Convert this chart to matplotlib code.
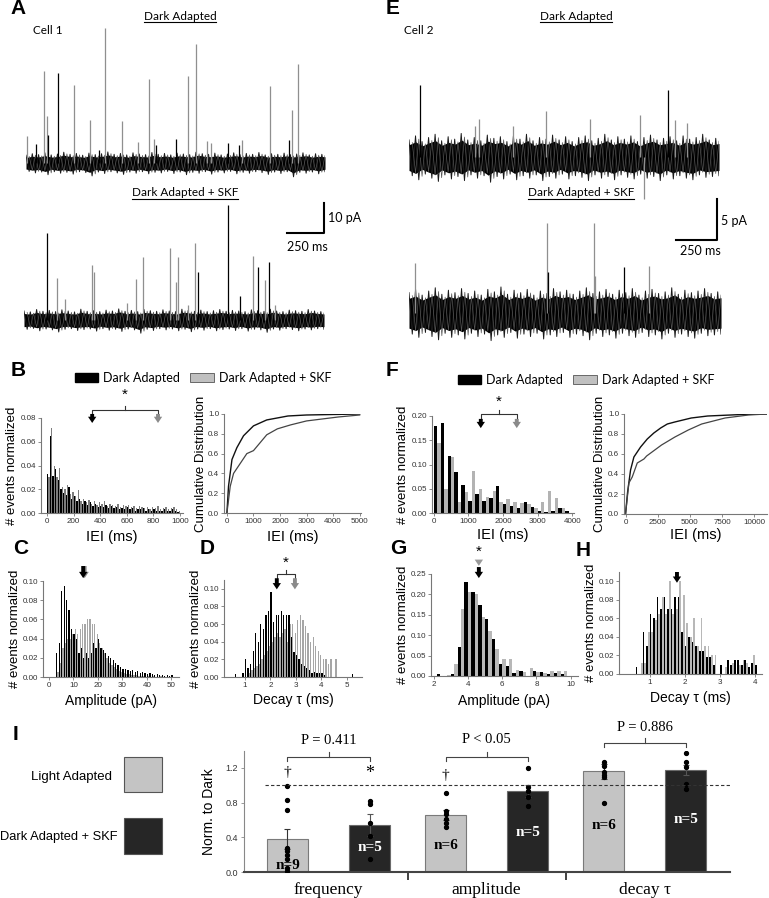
import numpy as np
import matplotlib.pyplot as plt
from matplotlib.patches import Patch, Rectangle
from matplotlib.lines import Line2D

W, H = 769, 898
plt.rcParams['font.family'] = ['Liberation Sans', 'DejaVu Sans']

# ---------------- example traces (A, E) ----------------
# event times (ms), amplitudes (pA), colour code: k = black, g = gray
a1_t = [5, 65, 118, 140, 149, 216, 319, 428, 488, 528, 642, 747, 825, 856, 872, 1006, 1081, 1139,
        1208, 1238, 1353, 1427, 1443, 1634, 1757, 1777, 1817]
a1_amp = [8.9, 6.4, 30.6, 15.6, 9.4, 30.0, 26.1, 14.4, 4.4, 45.0, 14.1, 6.9, 28.0, 8.0, 5.9, 8.0, 28.9,
          39.7, 7.2, 6.7, 6.7, 5.9, 7.8, 25.8, 7.6, 17.8, 33.0]
a1_col = 'gkggkkggkgggggkkggggkkggkgg'
a2_t = [153, 220, 271, 451, 469, 687, 744, 791, 971, 1011, 1024, 1091, 1142, 1158, 1362, 1438, 1524,
        1562, 1607, 1633, 1671]
a2_amp = [28.9, 14.0, 6.9, 18.3, 16.0, 5.5, 13.8, 21.0, 23.9, 12.8, 21.0, 5.0, 25.6, 16.0, 38.3, 8.0,
          21.5, 17.8, 13.3, 19.4, 5.0]
a2_col = 'kggggggggggggkkkgkgkg'
e1_t = [65, 402, 431, 639, 838, 1111, 1414, 1440, 1585, 1630, 1704]
e1_amp = [8.9, 3.8, 4.7, 3.8, 5.7, 4.7, 5.2, -5.2, 8.2, 4.6, 4.2]
e1_col = 'kgggggggkgg'
e2_t = [37, 843, 845, 1126, 1134, 1307, 1463]
e2_amp = [6.2, 11.1, 5.1, 11.1, 4.5, 5.7, 5.8]
e2_col = 'ggkggkg'

# noise envelope (pA around baseline)
a1_hi = [2.6, 3.1, 2.8, 3.4, 2.7, 3.0, 3.6, 2.9, 3.2, 2.6, 3.3, 2.8, 3.1, 3.7, 2.9, 3.2, 2.7, 3.4, 3.0, 2.8,
         3.5, 2.9, 3.2, 2.7, 3.3, 3.0, 2.8, 3.6, 3.1, 2.9, 3.3, 2.7, 3.0, 3.4, 2.8, 3.2, 2.9, 3.5, 2.7, 3.1,
         2.9, 3.3, 2.8, 3.0, 3.4, 2.7, 3.1, 2.9]
a1_lo = [-2.8, -3.3, -3.0, -3.9, -2.9, -3.4, -3.1, -3.7, -2.9, -3.2, -4.3, -3.0, -3.5, -2.9, -3.3, -3.8,
         -3.0, -3.4, -2.9, -3.6, -3.1, -3.3, -2.8, -3.5, -3.0, -3.9, -3.1, -3.4, -2.9, -3.7, -3.0, -3.3,
         -2.8, -3.6, -3.1, -3.4, -2.9, -3.2, -3.8, -3.0, -3.5, -2.9, -4.6, -3.1, -3.4, -3.0, -3.6, -2.9]
a2_hi = [3.0, 2.7, 3.5, 2.9, 3.2, 2.8, 3.4, 3.0, 2.7, 3.6, 2.9, 3.1, 2.8, 3.3, 3.0, 3.7, 2.9, 3.2, 2.8, 3.5,
         3.1, 2.9, 3.4, 3.0, 2.8, 3.6, 3.2, 2.9, 3.3, 2.8, 3.1, 3.5, 2.9, 3.2, 3.0, 2.8, 3.4, 3.1, 2.9, 3.6,
         3.0, 2.8, 3.3, 3.1, 2.9, 3.5, 3.0, 2.8]
a2_lo = [-3.1, -2.8, -3.6, -3.0, -3.3, -4.0, -3.1, -2.9, -3.5, -3.2, -3.0, -3.7, -2.9, -3.4, -3.1, -3.8,
         -3.0, -3.3, -4.4, -3.1, -3.5, -2.9, -3.3, -3.0, -3.6, -3.1, -3.9, -3.0, -3.4, -2.9, -3.6, -3.2,
         -3.0, -3.5, -2.9, -3.7, -3.1, -3.3, -4.1, -3.0, -3.4, -2.9, -3.2, -3.6, -3.0, -3.3, -2.9, -3.1]
e1_hi = [2.1, 2.6, 1.9, 2.4, 2.8, 2.0, 2.5, 2.2, 2.9, 2.1, 2.4, 2.0, 2.7, 2.3, 2.5, 1.9, 2.6, 2.2, 2.8, 2.0,
         2.4, 2.2, 2.7, 2.1, 2.5, 1.9, 2.4, 2.6, 2.0, 2.3, 2.8, 2.1, 2.5, 2.2, 2.6, 1.9, 2.4, 2.7, 2.1, 2.3,
         2.5, 2.0, 2.6, 2.2, 2.4, 2.8, 2.1, 2.3]
e1_lo = [-2.3, -2.8, -2.1, -2.6, -3.0, -2.2, -2.7, -2.4, -2.9, -2.2, -2.6, -2.3, -3.1, -2.4, -2.7, -2.1,
         -2.8, -2.3, -2.6, -2.2, -2.9, -2.4, -2.6, -2.1, -2.7, -2.3, -2.5, -2.9, -2.2, -2.6, -2.4, -2.8,
         -2.2, -2.5, -2.7, -2.1, -2.6, -2.4, -2.9, -2.2, -2.7, -2.3, -2.6, -2.8, -2.2, -2.5, -2.4, -2.3]
e2_hi = [2.5, 2.9, 2.2, 2.7, 3.1, 2.3, 2.8, 2.5, 3.0, 2.4, 2.7, 2.2, 2.9, 2.6, 3.2, 2.3, 2.8, 2.5, 2.9, 2.2,
         2.7, 2.4, 3.0, 2.6, 2.8, 2.3, 2.7, 3.1, 2.4, 2.6, 2.9, 2.3, 2.8, 2.5, 3.0, 2.2, 2.7, 2.9, 2.4, 2.6,
         3.1, 2.3, 2.8, 2.5, 2.7, 3.0, 2.4, 2.6]
e2_lo = [-2.6, -3.0, -2.4, -2.9, -3.3, -2.5, -3.0, -2.7, -3.2, -2.5, -2.9, -2.6, -3.4, -2.7, -3.0, -2.4,
         -3.1, -2.6, -2.9, -2.5, -3.2, -2.7, -2.9, -2.4, -3.0, -2.6, -2.8, -3.3, -2.5, -2.9, -2.7, -3.1,
         -2.5, -2.8, -3.0, -2.4, -2.9, -2.7, -3.2, -2.5, -3.0, -2.6, -2.9, -3.1, -2.5, -2.8, -2.7, -2.6]

# ---------------- histograms ----------------
b_bins = np.arange(10, 1000, 20)
b_dark = [0.033, 0.065, 0.031, 0.037, 0.028, 0.020, 0.017, 0.015, 0.022, 0.012, 0.014, 0.010, 0.012, 0.008,
          0.010, 0.007, 0.009, 0.006, 0.008, 0.005, 0.006, 0.005, 0.007, 0.004, 0.006, 0.004, 0.005, 0.003,
          0.004, 0.003, 0.005, 0.003, 0.004, 0.002, 0.003, 0.003, 0.004, 0.002, 0.003, 0.002, 0.003, 0.002,
          0.002, 0.002, 0.003, 0.002, 0.002, 0.003, 0.002, 0.001]
b_skf = [0.030, 0.072, 0.040, 0.030, 0.038, 0.022, 0.020, 0.024, 0.016, 0.018, 0.014, 0.019, 0.010, 0.012,
         0.009, 0.011, 0.008, 0.010, 0.007, 0.009, 0.008, 0.010, 0.006, 0.008, 0.007, 0.006, 0.008, 0.005,
         0.007, 0.006, 0.007, 0.005, 0.006, 0.004, 0.006, 0.005, 0.004, 0.005, 0.003, 0.005, 0.004, 0.006,
         0.003, 0.004, 0.005, 0.003, 0.004, 0.005, 0.003, 0.002]
b_mean = [340, 835]

bc_dark_x = [0, 60, 190, 375, 625, 1000, 1500, 2300, 3000, 5000]
bc_dark_y = [0, 0.27, 0.54, 0.66, 0.78, 0.88, 0.94, 0.98, 0.99, 1.0]
bc_skf_x = [0, 125, 250, 500, 750, 1000, 1250, 1500, 1900, 2400, 3000, 4200, 5000]
bc_skf_y = [0, 0.27, 0.40, 0.50, 0.60, 0.63, 0.71, 0.79, 0.85, 0.89, 0.93, 0.97, 0.99]

f_bins = np.arange(100, 4000, 200)
f_dark = [0.180, 0.185, 0.118, 0.085, 0.057, 0.025, 0.040, 0.025, 0.030, 0.055, 0.018, 0.015, 0.010, 0.022,
          0.012, 0.005, 0.003, 0.004, 0.010, 0.005]
f_skf = [0.145, 0.050, 0.115, 0.022, 0.044, 0.087, 0.050, 0.032, 0.045, 0.022, 0.028, 0.022, 0.020, 0.018,
         0.010, 0.022, 0.045, 0.030, 0.010, 0.000]
f_mean = [1360, 2400]

fc_dark_x = [0, 160, 390, 650, 1170, 1690, 2200, 2730, 3250, 3830, 5110, 6390, 9050, 11000]
fc_dark_y = [0, 0.22, 0.44, 0.57, 0.67, 0.75, 0.81, 0.86, 0.90, 0.92, 0.96, 0.98, 0.995, 1.0]
fc_skf_x = [0, 260, 520, 910, 1430, 1640, 2800, 3840, 4880, 5920, 7740, 9560, 11000]
fc_skf_y = [0, 0.31, 0.37, 0.51, 0.55, 0.58, 0.69, 0.77, 0.84, 0.90, 0.96, 0.99, 1.0]

c_bins = np.arange(3.5, 51, 1.0)
c_dark = [0.025, 0.035, 0.090, 0.095, 0.080, 0.070, 0.050, 0.045, 0.040, 0.025, 0.030, 0.020, 0.025, 0.020,
          0.025, 0.035, 0.030, 0.040, 0.030, 0.028, 0.025, 0.022, 0.020, 0.018, 0.015, 0.012, 0.010, 0.008,
          0.008, 0.007, 0.006, 0.007, 0.005, 0.006, 0.004, 0.005, 0.004, 0.003, 0.004, 0.003, 0.002, 0.003,
          0.002, 0.002, 0.001, 0.002, 0.001, 0.002]
c_skf = [0.005, 0.015, 0.030, 0.035, 0.040, 0.040, 0.045, 0.050, 0.045, 0.050, 0.055, 0.055, 0.060, 0.060,
         0.055, 0.055, 0.045, 0.035, 0.030, 0.025, 0.020, 0.015, 0.012, 0.010, 0.008, 0.006, 0.005, 0.004,
         0.003, 0.003, 0.002, 0.002, 0.002, 0.001, 0.001, 0.001, 0.000, 0.001, 0.000, 0.001, 0.000, 0.000,
         0.001, 0.000, 0.000, 0.000, 0.000, 0.000]
c_mean = 14

d_bins = np.arange(0.65, 5.3, 0.1)
d_dark = [0.003, 0.000, 0.000, 0.005, 0.020, 0.010, 0.015, 0.030, 0.050, 0.040, 0.060, 0.055, 0.070, 0.075,
          0.096, 0.062, 0.070, 0.070, 0.075, 0.070, 0.070, 0.070, 0.045, 0.028, 0.025, 0.020, 0.015, 0.012,
          0.010, 0.008, 0.005, 0.006, 0.004, 0.005, 0.005, 0.002, 0.000, 0.000, 0.000, 0.000, 0.000, 0.000,
          0.000, 0.000, 0.000, 0.000, 0.003]
d_skf = [0.000, 0.000, 0.000, 0.000, 0.000, 0.005, 0.008, 0.010, 0.012, 0.015, 0.020, 0.025, 0.030, 0.035,
         0.040, 0.045, 0.050, 0.045, 0.050, 0.055, 0.040, 0.060, 0.060, 0.050, 0.065, 0.070, 0.065, 0.058,
         0.050, 0.040, 0.045, 0.035, 0.030, 0.025, 0.020, 0.020, 0.015, 0.020, 0.000, 0.020, 0.000, 0.000,
         0.000, 0.000, 0.000, 0.000, 0.000]
d_mean = [2.25, 2.96]

g_bins = np.arange(2.4, 10.1, 0.4)
g_dark = [0.004, 0.000, 0.005, 0.070, 0.230, 0.205, 0.175, 0.140, 0.090, 0.030, 0.025, 0.008, 0.012, 0.000,
          0.013, 0.010, 0.004, 0.008, 0.006, 0.000]
g_skf = [0.000, 0.003, 0.030, 0.165, 0.205, 0.200, 0.145, 0.110, 0.065, 0.042, 0.042, 0.015, 0.010, 0.020,
         0.010, 0.008, 0.012, 0.012, 0.012, 0.000]
g_mean = 4.64

h_bins = np.arange(0.65, 4.1, 0.1)
h_dark = [0.008, 0.000, 0.045, 0.030, 0.065, 0.060, 0.083, 0.070, 0.083, 0.070, 0.070, 0.083, 0.083, 0.045,
          0.030, 0.040, 0.035, 0.030, 0.025, 0.025, 0.018, 0.018, 0.010, 0.000, 0.010, 0.000, 0.015, 0.010,
          0.015, 0.015, 0.010, 0.015, 0.008, 0.012, 0.010]
h_skf = [0.000, 0.012, 0.012, 0.045, 0.045, 0.058, 0.065, 0.083, 0.065, 0.100, 0.065, 0.070, 0.100, 0.085,
         0.055, 0.040, 0.060, 0.030, 0.060, 0.030, 0.030, 0.020, 0.020, 0.000, 0.000, 0.008, 0.000, 0.012,
         0.000, 0.010, 0.015, 0.012, 0.000, 0.020, 0.000]
h_mean = 1.78

# ---------------- summary (I) ----------------
cats = ['frequency', 'amplitude', 'decay \u03c4']
light_mean = [0.38, 0.66, 1.16]
light_sem = [0.12, 0.055, 0.09]
skf_mean = [0.54, 0.935, 1.175]
skf_sem = [0.125, 0.065, 0.06]
light_pts = [[0.99, 0.83, 0.72, 0.28, 0.24, 0.20, 0.15, 0.05, 0.015],
             [0.91, 0.70, 0.67, 0.61, 0.56, 0.52],
             [1.27, 1.22, 1.15, 1.12, 1.09, 0.79]]
skf_pts = [[0.815, 0.78, 0.57, 0.41, 0.15],
           [1.20, 0.98, 0.93, 0.87, 0.76],
           [1.37, 1.27, 1.21, 1.02, 0.96]]
n_light = [9, 6, 6]
n_skf = [5, 5, 5]
p_text = ['P = 0.411', 'P < 0.05', 'P = 0.886']

BLACK = '#000000'
GRAY = '#a6a6a6'
trace_cols = {'k': '#000000', 'g': '#8f8f8f'}
HEAD = dict(family=['Lato', 'DejaVu Sans'])

fig = plt.figure(figsize=(W / 100, H / 100), dpi=100)


def add_ax(l, t, r, b):
    return fig.add_axes([l / W, 1 - b / H, (r - l) / W, (b - t) / H])


def ftext(x, y, s, **kw):
    return fig.text(x / W, 1 - y / H, s, **kw)


def draw_trace(ax, t_end, hi, lo, ev_t, ev_a, ev_c, ylim):
    hi = np.asarray(hi)
    lo = np.asarray(lo)
    tt = np.linspace(0, t_end, len(hi))
    # dense core + zig-zag between the envelope points for the noisy look
    ax.fill_between(tt, lo * 0.72, hi * 0.72, color='black', lw=0)
    tz = np.linspace(0, t_end, 2 * len(hi))
    yz = np.ravel(np.column_stack([hi, lo]))
    ax.plot(tz, yz, color='#1a1a1a', lw=0.7)
    ax.plot(tz[1:], yz[:-1] * 0.85, color='#555555', lw=0.5)
    ax.vlines(ev_t, 0, ev_a, colors=[trace_cols[c] for c in ev_c], lw=0.9)
    ax.set_xlim(0, t_end)
    ax.set_ylim(*ylim)
    ax.axis('off')


def style(ax):
    for s in ['top', 'right']:
        ax.spines[s].set_visible(False)
    for s in ['left', 'bottom']:
        ax.spines[s].set_color('#777777')
        ax.spines[s].set_linewidth(0.8)
    ax.tick_params(labelsize=5.8, length=2, width=0.6, color='#777777', labelcolor='#333333', pad=1.5)


def ylab(ax, s, x_right, size=9.5):
    ax.set_ylabel(s, fontsize=size)
    pos = ax.get_position()
    ax.yaxis.set_label_coords((x_right - pos.x0 * W) / (pos.width * W), 0.5)


def xlab(ax, s, y_top, size=10.5):
    ax.set_xlabel(s, fontsize=size)
    pos = ax.get_position()
    ax.xaxis.set_label_coords(0.5, ((1 - pos.y0) * H - y_top) / (pos.height * H))


def hist_pair(ax, centers, dark, skf, width, gray=GRAY):
    c = np.asarray(centers)
    ax.bar(c - width / 4, dark, width=width / 2, color=BLACK, lw=0)
    ax.bar(c + width / 4, skf, width=width / 2, color=gray, lw=0)


def arrow(ax, x, y_tail, y_tip, color):
    ax.annotate('', xy=(x, y_tip), xytext=(x, y_tail),
                arrowprops=dict(arrowstyle='simple,head_length=0.45,head_width=0.6,tail_width=0.28',
                                color=color, lw=0, shrinkA=0, shrinkB=0),
                annotation_clip=False)


def bracket(ax, x1, x2, y_feet, y_bar, y_tick, color='#333333', lw=0.8):
    ax.plot([x1, x1, x2, x2], [y_feet, y_bar, y_bar, y_feet], color=color, lw=lw, clip_on=False)
    xm = (x1 + x2) / 2
    ax.plot([xm, xm], [y_bar, y_tick], color=color, lw=lw, clip_on=False)
    return xm


# ---------------- A / E traces ----------------
ax = add_ax(26, 20, 325, 185)
draw_trace(ax, 2000, a1_hi, a1_lo, a1_t, a1_amp, a1_col, (-7.33, 47.67))
ax = add_ax(24, 195, 324, 340)
draw_trace(ax, 2000, a2_hi, a2_lo, a2_t, a2_amp, a2_col, (-6.67, 41.67))
ax.plot([1750, 2000, 2000], [29, 29, 39], color='black', lw=1.5, clip_on=False)
ax.text(2025, 34, '10 pA', fontsize=9, va='center', ha='left', **HEAD)
ax.text(1887, 24.3, '250 ms', fontsize=9, va='center', ha='center', **HEAD)

ax = add_ax(409, 70, 719, 205)
draw_trace(ax, 1900, e1_hi, e1_lo, e1_t, e1_amp, e1_col, (-5.9, 10.7))
ax = add_ax(409, 195, 721, 345)
draw_trace(ax, 1900, e2_hi, e2_lo, e2_t, e2_amp, e2_col, (-3.94, 14.51))
ax.plot([1626, 1876, 1876], [9, 9, 14], color='black', lw=1.5, clip_on=False)
ax.text(1900, 11.3, '5 pA', fontsize=9, va='center', ha='left', **HEAD)
ax.text(1772, 7.6, '250 ms', fontsize=9, va='center', ha='center', **HEAD)

heads = [ftext(180, 16, 'Dark Adapted', ha='center', va='center', fontsize=8.5, **HEAD),
         ftext(185, 193, 'Dark Adapted + SKF', ha='center', va='center', fontsize=8.5, **HEAD),
         ftext(576, 16, 'Dark Adapted', ha='center', va='center', fontsize=8.5, **HEAD),
         ftext(581, 193, 'Dark Adapted + SKF', ha='center', va='center', fontsize=8.5, **HEAD)]
ftext(33, 31, 'Cell 1', ha='left', va='center', fontsize=8.5, **HEAD)
ftext(404, 31, 'Cell 2', ha='left', va='center', fontsize=8.5, **HEAD)

# panel letters
for x, y, s in [(10, 8, 'A'), (386, 8, 'E'), (11, 370, 'B'), (386, 370, 'F'), (13, 548, 'C'),
                (200, 548, 'D'), (390, 549, 'G'), (576, 550, 'H'), (13, 735, 'I')]:
    ftext(x, y, s, ha='left', va='center', fontsize=15, fontweight='bold')

# legends B / F
leg_handles = [Patch(fc=BLACK, ec=BLACK), Patch(fc='#c0c0c0', ec='#555555', lw=0.6)]
for cx, cy in [(203, 378), (586, 380)]:
    fig.legend(leg_handles, ['Dark Adapted', 'Dark Adapted + SKF'], ncol=2, frameon=False, loc='center',
               bbox_to_anchor=(cx / W, 1 - cy / H), handlelength=1.9, handleheight=0.75, handletextpad=0.4,
               columnspacing=0.8, prop={'family': ['Lato', 'DejaVu Sans'], 'size': 9})

# ---------------- B ----------------
ax = add_ax(41, 418, 183, 513)
style(ax)
hist_pair(ax, b_bins, b_dark, b_skf, 20, gray='#7d7d7d')
ax.set_xlim(-45, 1023)
ax.set_ylim(0, 0.08)
ax.set_xticks([0, 200, 400, 600, 800, 1000])
ax.set_yticks([0, 0.02, 0.04, 0.06, 0.08])
ax.yaxis.set_major_formatter('{x:.2f}')
ylab(ax, '# events normalized', 18)
xlab(ax, 'IEI (ms)', 530)
arrow(ax, b_mean[0], 0.0834, 0.0758, BLACK)
arrow(ax, b_mean[1], 0.0834, 0.0758, '#8a8a8a')
xm = bracket(ax, b_mean[0], b_mean[1], 0.0834, 0.0867, 0.0901)
ax.text(xm, 0.0935, '*', ha='center', va='bottom', fontsize=11, clip_on=False)

ax = add_ax(224, 414, 361, 513)
style(ax)
ax.plot(bc_dark_x, bc_dark_y, color='#111111', lw=1.0)
ax.plot(bc_skf_x, bc_skf_y, color='#444444', lw=0.9)
ax.set_xlim(-110, 5050)
ax.set_ylim(0, 1.0)
ax.set_xticks([0, 1000, 2000, 3000, 4000, 5000])
ax.set_yticks([0, 0.2, 0.4, 0.6, 0.8, 1.0])
ax.yaxis.set_major_formatter('{x:.1f}')
ylab(ax, 'Cumulative Distribution', 207)
xlab(ax, 'IEI (ms)', 530)

# ---------------- F ----------------
ax = add_ax(432, 416, 574, 513)
style(ax)
hist_pair(ax, f_bins, f_dark, f_skf, 200, gray='#b3b3b3')
ax.set_xlim(-50, 4054)
ax.set_ylim(0, 0.2)
ax.set_xticks([0, 1000, 2000, 3000, 4000])
ax.set_yticks([0, 0.05, 0.10, 0.15, 0.20])
ax.yaxis.set_major_formatter('{x:.2f}')
ylab(ax, '# events normalized', 409)
xlab(ax, 'IEI (ms)', 528)
arrow(ax, f_mean[0], 0.194, 0.175, BLACK)
arrow(ax, f_mean[1], 0.194, 0.175, '#8a8a8a')
xm = bracket(ax, f_mean[0], f_mean[1], 0.194, 0.204, 0.212)
ax.text(xm, 0.214, '*', ha='center', va='bottom', fontsize=11, clip_on=False)

ax = add_ax(624, 414, 767, 514)
style(ax)
ax.plot(fc_dark_x, fc_dark_y, color='#111111', lw=1.0)
ax.plot(fc_skf_x, fc_skf_y, color='#444444', lw=0.9)
ax.set_xlim(-120, 11000)
ax.set_ylim(0, 1.0)
ax.set_xticks([0, 2500, 5000, 7500, 10000])
ax.set_yticks([0, 0.2, 0.4, 0.6, 0.8, 1.0])
ax.yaxis.set_major_formatter('{x:.1f}')
ylab(ax, 'Cumulative Distribution', 606)
xlab(ax, 'IEI (ms)', 528)

# ---------------- C ----------------
ax = add_ax(43, 581, 179, 677)
style(ax)
hist_pair(ax, c_bins, c_dark, c_skf, 1.0)
ax.set_xlim(-2.4, 53.1)
ax.set_ylim(0, 0.10)
ax.set_xticks([0, 10, 20, 30, 40, 50])
ax.set_yticks([0, 0.02, 0.04, 0.06, 0.08, 0.10])
ax.yaxis.set_major_formatter('{x:.2f}')
ylab(ax, '# events normalized', 21)
xlab(ax, 'Amplitude (pA)', 694, size=10)
arrow(ax, c_mean + 0.6, 0.1156, 0.103, '#8a8a8a')
arrow(ax, c_mean, 0.1156, 0.103, BLACK)

# ---------------- D ----------------
ax = add_ax(224, 580, 362, 677)
style(ax)
hist_pair(ax, d_bins, d_dark, d_skf, 0.1)
ax.set_xlim(0.18, 5.59)
ax.set_ylim(0, 0.11)
ax.set_xticks([1, 2, 3, 4, 5])
ax.set_yticks([0, 0.02, 0.04, 0.06, 0.08, 0.10])
ax.yaxis.set_major_formatter('{x:.2f}')
ylab(ax, '# events normalized', 202)
xlab(ax, 'Decay \u03c4 (ms)', 693, size=10)
arrow(ax, d_mean[0], 0.112, 0.0994, BLACK)
arrow(ax, d_mean[1], 0.112, 0.0994, '#8a8a8a')
xm = bracket(ax, d_mean[0], d_mean[1], 0.112, 0.1166, 0.121)
ax.text(xm, 0.1215, '*', ha='center', va='bottom', fontsize=11, clip_on=False)

# ---------------- G ----------------
ax = add_ax(431, 574, 578, 676)
style(ax)
hist_pair(ax, g_bins, g_dark, g_skf, 0.4, gray='#b8b8b8')
ax.set_xlim(1.85, 10.42)
ax.set_ylim(0, 0.25)
ax.set_xticks([2, 4, 6, 8, 10])
ax.set_yticks([0, 0.05, 0.10, 0.15, 0.20, 0.25])
ax.yaxis.set_major_formatter('{x:.2f}')
ylab(ax, '# events normalized', 409)
xlab(ax, 'Amplitude (pA)', 694, size=10)
arrow(ax, g_mean, 0.284, 0.270, '#9a9a9a')
arrow(ax, g_mean, 0.267, 0.240, BLACK)
ax.text(g_mean, 0.288, '*', ha='center', va='bottom', fontsize=11, clip_on=False)

# ---------------- H ----------------
ax = add_ax(619, 572, 762, 674)
style(ax)
hist_pair(ax, h_bins, h_dark, h_skf, 0.1, gray='#b8b8b8')
ax.set_xlim(0.13, 4.2)
ax.set_ylim(0, 0.11)
ax.set_xticks([1, 2, 3, 4])
ax.set_yticks([0, 0.02, 0.04, 0.06, 0.08, 0.10])
ax.yaxis.set_major_formatter('{x:.2f}')
ylab(ax, '# events normalized', 597)
xlab(ax, 'Decay \u03c4 (ms)', 691, size=10)
arrow(ax, h_mean, 0.110, 0.0984, BLACK)

# ---------------- I ----------------
SERIF = ['Liberation Serif', 'DejaVu Serif']
fig.add_artist(Rectangle((124 / W, 1 - 792 / H), 38 / W, 35 / H, transform=fig.transFigure,
                         fc='#c4c4c4', ec='#555555', lw=0.8))
fig.add_artist(Rectangle((124 / W, 1 - 854 / H), 38 / W, 36 / H, transform=fig.transFigure,
                         fc='#262626', ec='#555555', lw=0.8))
ftext(112, 777, 'Light Adapted', ha='right', va='center', fontsize=9.5)
ftext(118, 837, 'Dark Adapted + SKF', ha='right', va='center', fontsize=9.3)

ax = add_ax(244, 750.55, 730, 872)
for s in ['top', 'right']:
    ax.spines[s].set_visible(False)
ax.spines['left'].set_color('#888888')
ax.spines['left'].set_linewidth(0.8)
ax.spines['bottom'].set_color('#444444')
ax.spines['bottom'].set_linewidth(1.5)
xg = np.arange(len(cats))
off, bw = 0.26, 0.26
ax.bar(xg - off, light_mean, width=bw, color='#c4c4c4', edgecolor='#7a7a7a', lw=0.8, zorder=2)
ax.bar(xg + off, skf_mean, width=bw, color='#262626', edgecolor='#6a6a6a', lw=0.8, zorder=2)
ax.errorbar(xg - off, light_mean, yerr=light_sem, fmt='none', ecolor='#333333', elinewidth=0.8,
            capsize=2.5, capthick=0.8, zorder=3)
ax.errorbar(xg + off, skf_mean, yerr=skf_sem, fmt='none', ecolor='#555555', elinewidth=0.8,
            capsize=2.5, capthick=0.8, zorder=3)
for i in range(len(cats)):
    ax.plot([xg[i] - off] * len(light_pts[i]), light_pts[i], 'o', ms=2.8, color='black', zorder=4)
    ax.plot([xg[i] + off] * len(skf_pts[i]), skf_pts[i], 'o', ms=2.8, color='black', zorder=4)
ax.axhline(1.0, xmin=0.043, xmax=1.0, ls='--', color='#333333', lw=0.8, dashes=(3, 2), zorder=5)
ax.set_xlim(-0.535, 2.54)
ax.set_ylim(0, 1.4)
ax.set_yticks([0, 0.4, 0.8, 1.2])
ax.yaxis.set_major_formatter('{x:.1f}')
ax.tick_params(axis='y', labelsize=6.5, length=2.5, width=0.6, color='#888888', labelcolor='#333333', pad=2)
ax.set_xticks([0.5, 1.5])
ax.set_xticklabels(['', ''])
ax.tick_params(axis='x', which='major', length=6, width=1.3, color='#333333', direction='out')
ax.set_xticks(xg, minor=True)
ax.set_xticklabels(cats, minor=True, fontsize=12.5, family=SERIF)
ax.tick_params(axis='x', which='minor', length=0, pad=7)
ylab(ax, 'Norm. to Dark', 216, size=10)

n_y_light = [0.08, 0.30, 0.54]
n_y_skf = [0.277, 0.45, 0.60]
for i in range(len(cats)):
    ax.text(xg[i] - off, n_y_light[i], 'n=%d' % n_light[i], ha='center', va='center', fontsize=11,
            fontweight='bold', family=SERIF, color='black', zorder=6)
    ax.text(xg[i] + off, n_y_skf[i], 'n=%d' % n_skf[i], ha='center', va='center', fontsize=11,
            fontweight='bold', family=SERIF, color='white', zorder=6)
ax.text(xg[0] - off, 1.15, '\u2020', ha='center', va='center', fontsize=11, family=SERIF)
ax.text(xg[0] + off, 1.13, '*', ha='center', va='center', fontsize=13, family=SERIF)
ax.text(xg[1] - off, 1.11, '\u2020', ha='center', va='center', fontsize=11, family=SERIF)

br_y = [1.33, 1.33, 1.49]
p_y = [1.52, 1.53, 1.66]
for i in range(len(cats)):
    xm = bracket(ax, xg[i] - off, xg[i] + off, br_y[i] - 0.045, br_y[i], br_y[i] + 0.05,
                 color='#444444', lw=0.8)
    ax.text(xm, p_y[i], p_text[i], ha='center', va='center', fontsize=10.5, family=SERIF, clip_on=False)

# underline the trace headings
fig.canvas.draw()
for t in heads:
    bb = t.get_window_extent()
    fig.add_artist(Line2D([bb.x0 / W, bb.x1 / W], [(bb.y0 - 0.5) / H] * 2, transform=fig.transFigure,
                          color='black', lw=0.8))

fig.savefig('out.png', dpi=100)
